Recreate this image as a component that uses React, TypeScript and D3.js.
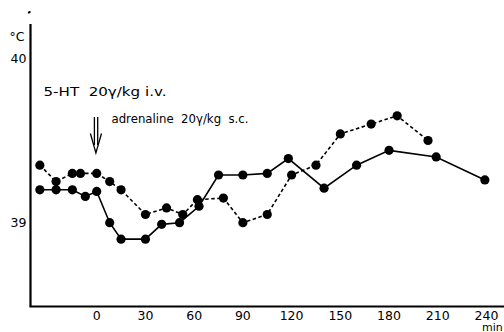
import React from "react";
import * as d3 from "d3";

// Time points (min) and rectal temperature (°C)
const dashedTimes = [-35, -25, -15, -10, 0, 8, 15, 30, 43, 53, 62, 78, 90, 105, 120, 135, 150, 169, 185, 204];
const dashedValues = [39.35, 39.25, 39.3, 39.3, 39.3, 39.25, 39.2, 39.05, 39.09, 39.05, 39.14, 39.15, 39.0, 39.05, 39.29, 39.35, 39.54, 39.6, 39.65, 39.5];

const solidTimes = [-35, -25, -15, -7, 0, 8, 15, 30, 40, 51, 63, 75, 90, 105, 118, 140, 160, 180, 209, 239];
const solidValues = [39.2, 39.2, 39.2, 39.16, 39.19, 39.0, 38.9, 38.9, 38.99, 39.0, 39.1, 39.29, 39.29, 39.3, 39.39, 39.21, 39.35, 39.44, 39.4, 39.26];

const xTicks = [0, 30, 60, 90, 120, 150, 180, 210, 240];
const yTicks = [39, 40];

const label5HT = "5-HT  20γ/kg i.v.";
const labelAdr = "adrenaline  20γ/kg  s.c.";

export default function App() {
  const W = 504;
  const H = 332;
  const x = d3.scaleLinear().domain([0, 240]).range([96.7, 486.5]);
  const y = d3.scaleLinear().domain([39, 40]).range([222.7, 58.3]);

  const xMin = x.invert(30.5);
  const xMax = x.invert(504);
  const yMin = y.invert(306.5);
  const yMax = y.invert(24);

  const line = d3
    .line<[number, number]>()
    .x((d) => x(d[0]))
    .y((d) => y(d[1]));

  const dashed: [number, number][] = dashedTimes.map((t, i) => [t, dashedValues[i]]);
  const solid: [number, number][] = solidTimes.map((t, i) => [t, solidValues[i]]);

  const font = "'DejaVu Sans', sans-serif";

  return (
    <div style={{ position: "absolute", left: 0, top: 0 }}>
      <svg width={W} height={H} style={{ display: "block", background: "#fff" }}>
        {/* small artifact dot */}
        <ellipse cx={29.3} cy={12.3} rx={1.6} ry={1.1} fill="#000" transform="rotate(-30 29.3 12.3)" />

        {/* axes */}
        <line x1={x(xMin)} x2={x(xMin)} y1={y(yMax)} y2={y(yMin)} stroke="#000" strokeWidth={2.2} />
        <line x1={x(xMin) - 1} x2={x(xMax)} y1={y(yMin)} y2={y(yMin)} stroke="#000" strokeWidth={2.2} />

        {/* y tick labels */}
        {yTicks.map((v) => (
          <text key={v} x={26.5} y={y(v) + 4.5} textAnchor="end" fontFamily={font} fontSize={12.5} fill="#000">
            {v}
          </text>
        ))}
        <text x={9.5} y={41} fontFamily={font} fontSize={12.5} fill="#000">
          °C
        </text>

        {/* x tick labels */}
        {xTicks.map((v) => (
          <text key={v} x={x(v)} y={319.5} textAnchor="middle" fontFamily={font} fontSize={12.5} fill="#000">
            {v}
          </text>
        ))}
        <text x={482} y={330.5} fontFamily={font} fontSize={11} fill="#000">
          min
        </text>

        {/* annotations */}
        <text
          x={43.5}
          y={96.3}
          fontFamily={font}
          fontSize={12.5}
          fill="#000"
          xmlSpace="preserve"
          style={{ whiteSpace: "pre" }}
          textLength={123}
          lengthAdjust="spacingAndGlyphs"
        >
          {label5HT}
        </text>
        <text
          x={111.5}
          y={122.5}
          fontFamily={font}
          fontSize={12}
          fill="#000"
          xmlSpace="preserve"
          style={{ whiteSpace: "pre" }}
          textLength={137}
          lengthAdjust="spacingAndGlyphs"
        >
          {labelAdr}
        </text>
        {/* double arrow */}
        <g stroke="#000" strokeWidth={1.3} fill="none">
          <line x1={x(0) - 2.3} x2={x(0) - 2.3} y1={117} y2={145} />
          <line x1={x(0) + 1.0} x2={x(0) + 1.0} y1={117} y2={145} />
          <polyline points={`${x(0) - 6.3},${133.5} ${x(0) - 0.8},${153} ${x(0) + 4.8},${133.5}`} />
        </g>

        {/* series */}
        <path d={line(dashed) || ""} fill="none" stroke="#000" strokeWidth={1.6} strokeDasharray="3.5,2.5" />
        <path d={line(solid) || ""} fill="none" stroke="#000" strokeWidth={1.6} />
        {dashed.map((d, i) => (
          <circle key={"d" + i} cx={x(d[0])} cy={y(d[1])} r={4.6} fill="#000" />
        ))}
        {solid.map((d, i) => (
          <circle key={"s" + i} cx={x(d[0])} cy={y(d[1])} r={4.6} fill="#000" />
        ))}
      </svg>
    </div>
  );
}
